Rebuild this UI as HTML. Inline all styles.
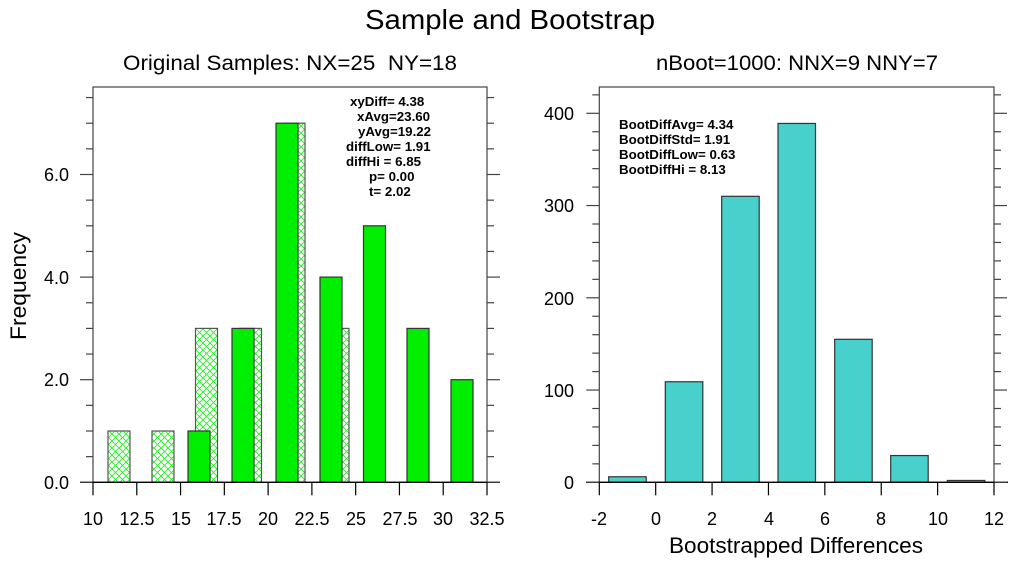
<!DOCTYPE html>
<html><head><meta charset="utf-8"><style>
html,body{margin:0;padding:0;background:#fff;}
svg{display:block;font-family:"Liberation Sans",sans-serif;}
</style></head><body>
<svg id="s" width="1016" height="566" viewBox="0 0 1016 566" xmlns="http://www.w3.org/2000/svg">
<defs>
<pattern id="h" patternUnits="userSpaceOnUse" width="7" height="7">
<path d="M0,0 L7,7 M7,0 L0,7" stroke="#22ee22" stroke-width="0.9"/>
</pattern>
</defs>
<text x="510" y="29" font-size="28" text-anchor="middle" textLength="290" lengthAdjust="spacingAndGlyphs">Sample and Bootstrap</text>
<text x="290" y="70" font-size="21" text-anchor="middle" xml:space="preserve" textLength="334" lengthAdjust="spacingAndGlyphs">Original Samples: NX=25  NY=18</text>
<text x="797" y="70" font-size="21" text-anchor="middle" textLength="282" lengthAdjust="spacingAndGlyphs">nBoot=1000: NNX=9 NNY=7</text>
<text transform="translate(26,286) rotate(-90)" font-size="22" text-anchor="middle" textLength="108" lengthAdjust="spacingAndGlyphs">Frequency</text>
<text x="796" y="553" font-size="22" text-anchor="middle" textLength="254" lengthAdjust="spacingAndGlyphs">Bootstrapped Differences</text>

<g id="L"></g>
<g id="R"></g>

<g font-size="18" text-anchor="end">
<text x="69" y="489">0.0</text><text x="69" y="386">2.0</text><text x="69" y="284">4.0</text><text x="69" y="181">6.0</text>
<text x="574" y="489">0</text><text x="574" y="397">100</text><text x="574" y="305">200</text><text x="574" y="212">300</text><text x="574" y="120">400</text>
</g>
<g font-size="18" text-anchor="middle">
<text x="93" y="525">10</text><text x="137" y="525">12.5</text><text x="181" y="525">15</text><text x="224" y="525">17.5</text><text x="268" y="525">20</text><text x="312" y="525">22.5</text><text x="356" y="525">25</text><text x="400" y="525">27.5</text><text x="443" y="525">30</text><text x="487" y="525">32.5</text>
<text x="599" y="525">-2</text><text x="656" y="525">0</text><text x="712" y="525">2</text><text x="769" y="525">4</text><text x="825" y="525">6</text><text x="881" y="525">8</text><text x="938" y="525">10</text><text x="994" y="525">12</text>
</g>
<g font-size="13.3" font-weight="bold">
<text x="350" y="106">xyDiff= 4.38</text>
<text x="357" y="121">xAvg=23.60</text>
<text x="358" y="136">yAvg=19.22</text>
<text x="346" y="151">diffLow= 1.91</text>
<text x="346" y="166">diffHi = 6.85</text>
<text x="369" y="181">p= 0.00</text>
<text x="369" y="196">t= 2.02</text>
<text x="619" y="129">BootDiffAvg= 4.34</text>
<text x="619" y="144">BootDiffStd= 1.91</text>
<text x="619" y="159">BootDiffLow= 0.63</text>
<text x="619" y="174">BootDiffHi = 8.13</text>
</g>
</svg>
<script>
const NS="http://www.w3.org/2000/svg";
function el(p,t,a){const e=document.createElementNS(NS,t);for(const k in a)e.setAttribute(k,a[k]);p.appendChild(e);return e;}
const L=document.getElementById('L'),R=document.getElementById('R');
const y0=482.3,uy=51.3;
const hat=[[108,1],[152,1],[195.5,3],[239.5,3],[283,7],[327,3]];
hat.forEach(([x,h])=>el(L,'rect',{x:x,y:y0-h*uy,width:22,height:h*uy,fill:'url(#h)',stroke:'#555','stroke-width':1.2}));
const gr=[[188,1],[232,3],[276,7],[320,4],[363.5,5],[407,3],[451,2]];
gr.forEach(([x,h])=>el(L,'rect',{x:x,y:y0-h*uy,width:22,height:h*uy,fill:'#00ee00',stroke:'#333','stroke-width':1.2}));
el(L,'rect',{x:93,y:87,width:394,height:395.3,fill:'none',stroke:'#444','stroke-width':1.2});
el(L,'line',{x1:80,y1:y0,x2:500,y2:y0,stroke:'#000','stroke-width':1.4});
for(let v=0;v<=7.5;v+=0.5){const y=y0-v*uy;const maj=(v%2===0);const l=maj?13:7;
 el(L,'line',{x1:93-l,y1:y,x2:93,y2:y,stroke:'#444','stroke-width':1.2});
 el(L,'line',{x1:487,y1:y,x2:487+l,y2:y,stroke:'#444','stroke-width':1.2});}
for(let i=0;i<=9;i++){const x=93+i*394/9;el(L,'line',{x1:x,y1:y0,x2:x,y2:y0+13,stroke:'#000','stroke-width':1.2});}
const r0=482.3,ry=0.9225;
const bars=[[608.7,6],[665.3,109],[721.7,310],[778,389],[834.7,155],[890.7,29],[947.3,2]];
bars.forEach(([x,h])=>el(R,'rect',{x:x,y:r0-h*ry,width:37.5,height:h*ry,fill:'#48d1cc',stroke:'#333','stroke-width':1.2}));
el(R,'rect',{x:599.3,y:87,width:394.7,height:395.3,fill:'none',stroke:'#444','stroke-width':1.2});
el(R,'line',{x1:586,y1:r0,x2:1008,y2:r0,stroke:'#000','stroke-width':1.4});
for(let v=0;v<=420;v+=20){const y=r0-v*ry;const maj=(v%100===0);const l=maj?13:7;
 el(R,'line',{x1:599.3-l,y1:y,x2:599.3,y2:y,stroke:'#444','stroke-width':1.2});
 el(R,'line',{x1:994,y1:y,x2:994+l,y2:y,stroke:'#444','stroke-width':1.2});}
for(let i=0;i<=7;i++){const x=599.3+i*394.7/7;el(R,'line',{x1:x,y1:r0,x2:x,y2:r0+13,stroke:'#000','stroke-width':1.2});}
</script>
</body></html>
